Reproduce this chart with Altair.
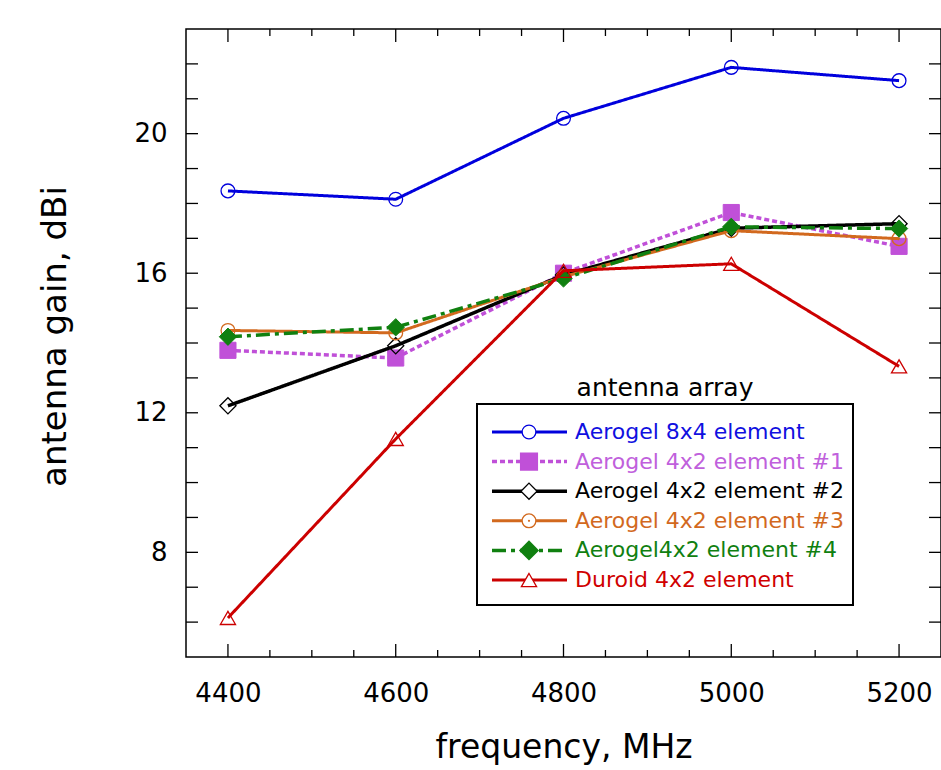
import altair as alt
import pandas as pd

# ---------------- data ----------------
freq = [4400, 4600, 4800, 5000, 5200]
aerogel_8x4 = [18.36, 18.12, 20.44, 21.90, 21.52]
aerogel_4x2_1 = [13.79, 13.57, 16.00, 17.74, 16.77]
aerogel_4x2_2 = [12.20, 13.92, 15.95, 17.29, 17.42]
aerogel_4x2_3 = [14.36, 14.29, 15.90, 17.22, 16.99]
aerogel_4x2_4 = [14.18, 14.45, 15.85, 17.33, 17.28]
duroid_4x2 = [6.12, 11.25, 16.07, 16.27, 13.33]

series_names = [
    "Aerogel 8x4 element",
    "Aerogel 4x2 element #1",
    "Aerogel 4x2 element #2",
    "Aerogel 4x2 element #3",
    "Aerogel4x2 element #4",
    "Duroid 4x2 element",
]
series_values = [aerogel_8x4, aerogel_4x2_1, aerogel_4x2_2,
                 aerogel_4x2_3, aerogel_4x2_4, duroid_4x2]
legend_title = "antenna array"

x_major = [4400, 4600, 4800, 5000, 5200]
x_minor = [4450, 4500, 4550, 4650, 4700, 4750, 4850, 4900, 4950,
           5050, 5100, 5150]
y_major = [8, 12, 16, 20]
y_minor = [6, 7, 9, 10, 11, 13, 14, 15, 17, 18, 19, 21, 22]

# ---------------- styles ----------------
styles = [
    dict(color="#0000DD", text="#1010E0", dash=[1, 0], width=3.0, shape="circle", filled=False, size=190),
    dict(color="#C050D8", text="#C060DC", dash=[5, 3], width=3.5, shape="square", filled=True, size=260),
    dict(color="#000000", text="#000000", dash=[1, 0], width=3.5, shape="diamond", filled=False, size=260),
    dict(color="#D2691E", text="#D2691E", dash=[1, 0], width=3.0, shape="circle", filled=False, size=190),
    dict(color="#108010", text="#108010", dash=[14, 5, 4, 5], width=3.5, shape="diamond", filled=True, size=300),
    dict(color="#CC0000", text="#D00000", dash=[1, 0], width=3.0, shape="triangle-up", filled=False, size=230),
]

FONT = "DejaVu Sans"
W, H = 755, 628

rows = []
for name, vals in zip(series_names, series_values):
    for f, v in zip(freq, vals):
        rows.append({"series": name, "freq": f, "gain": v})
df = pd.DataFrame(rows)

x_enc = alt.X(
    "freq:Q",
    scale=alt.Scale(domain=[4350, 5250], nice=False, zero=False),
    axis=alt.Axis(values=x_major, ticks=False, domain=False, grid=False,
                  labelFontSize=26, labelPadding=23, labelColor="black",
                  format="d", title="frequency, MHz", titleFontSize=33,
                  titleFontWeight="normal", titleColor="black",
                  titleBaseline="alphabetic", titleY=100),
)
y_enc = alt.Y(
    "gain:Q",
    scale=alt.Scale(domain=[5, 23], nice=False, zero=False),
    axis=alt.Axis(values=y_major, ticks=False, domain=False, grid=False,
                  labelFontSize=26, labelPadding=19, labelColor="black",
                  title="antenna gain, dBi", titleFontSize=34,
                  titleFontWeight="normal", titleColor="black",
                  titleBaseline="alphabetic", titleX=-121, titleY=307),
)

layers = []
# inward ticks
def xticks(vals, length, top):
    d = pd.DataFrame({"freq": vals})
    if top:
        y0, y1 = 0, length
    else:
        y0, y1 = H, H - length
    return alt.Chart(d).mark_rule(color="black", strokeWidth=1.3).encode(
        x=x_enc, y=alt.value(y0), y2=alt.value(y1))

def yticks(vals, length, right):
    d = pd.DataFrame({"gain": vals})
    if right:
        x0, x1 = W, W - length
    else:
        x0, x1 = 0, length
    return alt.Chart(d).mark_rule(color="black", strokeWidth=1.3).encode(
        y=y_enc, x=alt.value(x0), x2=alt.value(x1))

layers += [xticks(x_major, 13, False), xticks(x_minor, 7, False),
           xticks(x_major, 13, True), xticks(x_minor, 7, True),
           yticks(y_major, 12, False), yticks(y_minor, 12, False),
           yticks(y_major, 12, True), yticks(y_minor, 12, True)]

# series
for name, st in zip(series_names, styles):
    base = alt.Chart(df).transform_filter(alt.datum.series == name)
    layers.append(base.mark_line(color=st["color"], strokeWidth=st["width"],
                                 strokeDash=st["dash"]).encode(x=x_enc, y=y_enc))
    if st["filled"]:
        pm = base.mark_point(shape=st["shape"], size=st["size"], filled=True,
                             fill=st["color"], stroke=st["color"], strokeWidth=1,
                             opacity=1)
    else:
        pm = base.mark_point(shape=st["shape"], size=st["size"], filled=False,
                             stroke=st["color"], strokeWidth=1.3, opacity=1)
    layers.append(pm.encode(x=x_enc, y=y_enc))
    if name == "Aerogel 4x2 element #3":
        layers.append(base.mark_point(shape="circle", size=5, filled=True,
                                      color=st["color"], opacity=1).encode(x=x_enc, y=y_enc))

# legend (pixel layout inside plot area)
box = alt.Chart(pd.DataFrame({"t": [legend_title]})).mark_rect(
    fill="white", stroke="black", strokeWidth=2).encode(
    x=alt.value(291), x2=alt.value(667), y=alt.value(375), y2=alt.value(576))
layers.append(box)
layers.append(alt.Chart(pd.DataFrame({"t": [legend_title]})).mark_text(
    font=FONT, fontSize=25, color="black", align="center", baseline="alphabetic").encode(
    x=alt.value(479), y=alt.value(367), text="t:N"))

for i, (name, st) in enumerate(zip(series_names, styles)):
    ry = 403 + 29.6 * i
    d1 = pd.DataFrame({"name": [name]})
    layers.append(alt.Chart(d1).mark_rule(color=st["color"], strokeWidth=st["width"],
                                          strokeDash=st["dash"]).encode(
        x=alt.value(306), x2=alt.value(381), y=alt.value(ry)))
    if st["filled"]:
        pm = alt.Chart(d1).mark_point(shape=st["shape"], size=st["size"], filled=True,
                                      fill=st["color"], stroke=st["color"], opacity=1)
    else:
        pm = alt.Chart(d1).mark_point(shape=st["shape"], size=st["size"], filled=False,
                                      fill="white", stroke=st["color"], strokeWidth=1.3, opacity=1)
    layers.append(pm.encode(x=alt.value(343), y=alt.value(ry)))
    if name == "Aerogel 4x2 element #3":
        layers.append(alt.Chart(d1).mark_point(shape="circle", size=5, filled=True,
                                               color=st["color"], opacity=1).encode(
            x=alt.value(343), y=alt.value(ry)))
    layers.append(alt.Chart(d1).mark_text(font=FONT, fontSize=22, color=st["text"],
                                          align="left", baseline="middle").encode(
        x=alt.value(389), y=alt.value(ry), text="name:N"))

chart = alt.layer(*layers).properties(
    width=W, height=H,
    padding={"left": 186, "top": 29, "right": 0, "bottom": 113},
    autosize=alt.AutoSizeParams(type="none"),
    background="white",
).configure_view(stroke="black", strokeWidth=1.5).configure_axis(
    labelFont=FONT, titleFont=FONT
).configure_text(font=FONT)

chart.save("out.html", embed_options={"renderer": "svg", "actions": False})
